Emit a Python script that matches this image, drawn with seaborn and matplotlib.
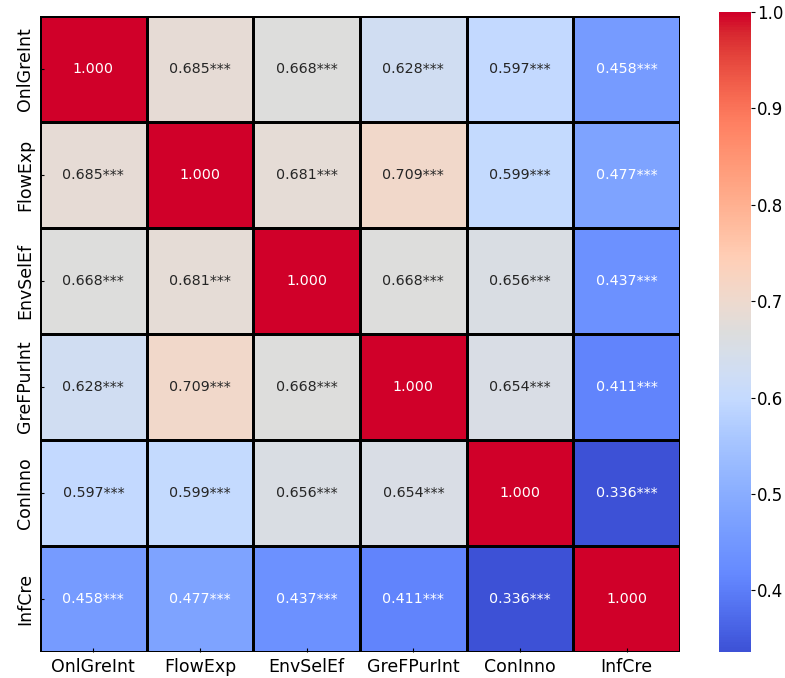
import numpy as np
import pandas as pd
import matplotlib
matplotlib.use("Agg")
import matplotlib.pyplot as plt
import matplotlib.colors as mcolors
import seaborn as sns

labels = ["OnlGreInt", "FlowExp", "EnvSelEf", "GreFPurInt", "ConInno", "InfCre"]
row_OnlGreInt = [1.000, 0.685, 0.668, 0.628, 0.597, 0.458]
row_FlowExp = [0.685, 1.000, 0.681, 0.709, 0.599, 0.477]
row_EnvSelEf = [0.668, 0.681, 1.000, 0.668, 0.656, 0.437]
row_GreFPurInt = [0.628, 0.709, 0.668, 1.000, 0.654, 0.411]
row_ConInno = [0.597, 0.599, 0.656, 0.654, 1.000, 0.336]
row_InfCre = [0.458, 0.477, 0.437, 0.411, 0.336, 1.000]

data = pd.DataFrame([row_OnlGreInt, row_FlowExp, row_EnvSelEf, row_GreFPurInt, row_ConInno, row_InfCre],
                    index=labels, columns=labels)
annot = data.map(lambda v: "1.000" if v == 1.0 else f"{v:.3f}***")

# slightly more vivid coolwarm
base = plt.get_cmap("coolwarm")(np.linspace(0, 1, 256))[:, :3]
hsv = mcolors.rgb_to_hsv(base)
hsv[:, 2] = np.clip(hsv[:, 2] * (1 + 0.16 * hsv[:, 1]), 0, 1)
hsv[:, 1] = np.clip(hsv[:, 1] * 1.03, 0, 1)
cmap = mcolors.ListedColormap(mcolors.hsv_to_rgb(hsv))

fig = plt.figure(figsize=(7.85, 6.78), dpi=100)
ax = fig.add_axes([40/785, 26/678, 640/785, 636/678])
cax = fig.add_axes([719/785, 26/678, 32/785, 640/678])

sns.heatmap(data, ax=ax, cbar_ax=cax, cmap=cmap, vmin=data.values.min(), vmax=1.0,
            annot=annot, fmt="", annot_kws={"size": 10.3},
            linewidths=0.9, linecolor="black")
ax.tick_params(axis="both", labelsize=12.5, length=3, direction="in", pad=4)
ax.set_xlabel("")
ax.set_ylabel("")
for s in ax.spines.values():
    s.set_visible(False)
cax.tick_params(labelsize=12, pad=1.5, length=3)
cax.set_yticks([0.4, 0.5, 0.6, 0.7, 0.8, 0.9, 1.0])
fig.savefig("out.png", dpi=100)
